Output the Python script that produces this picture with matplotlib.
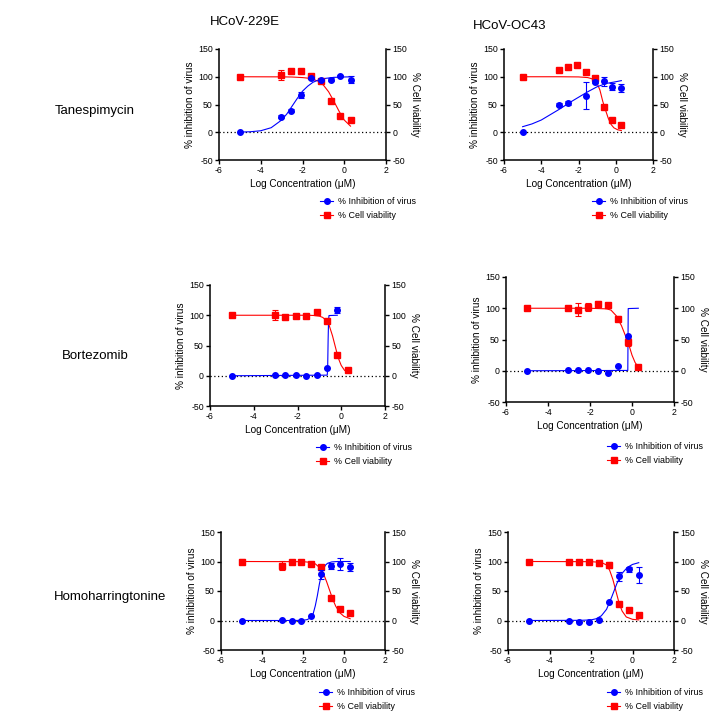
import matplotlib
matplotlib.use("Agg")
import matplotlib.pyplot as plt
from matplotlib.lines import Line2D

plt.rcParams['font.family'] = ['Liberation Sans', 'DejaVu Sans']
plt.rcParams['axes.unicode_minus'] = False

# log10 concentration (uM) of the dilution series
conc = [-5, -3.04, -2.56, -2.08, -1.61, -1.13, -0.65, -0.18, 0.30]

# ---- Tanespimycin / HCoV-229E
tan229_inh_x = conc
tan229_inh = [0, 28, 39, 67, 98, 94, 95, 101, 95]
tan229_inh_err = [0, 3, 2, 6, 2, 2, 2, 2, 7]
tan229_via = [100, 103, 110, 110, 102, 92, 56, 29, 22]
tan229_via_err = [0, 9, 0, 0, 3, 3, 0, 0, 0]
tan229_inh_fit_x = [-5, -4.5, -4, -3.5, -3, -2.75, -2.5, -2.25, -2, -1.75, -1.5, -1.25, -1, -0.5, 0, 0.3]
tan229_inh_fit_y = [0.3, 0.9, 2.7, 8.2, 22, 33, 47, 61, 74, 83, 90, 94, 96.6, 98.9, 99.6, 99.8]
tan229_via_fit_x = [-5, -3, -2.5, -2, -1.75, -1.5, -1.25, -1, -0.75, -0.5, -0.25, 0, 0.3]
tan229_via_fit_y = [100, 99.8, 99.5, 98.5, 97.5, 95.5, 92, 85, 73, 56, 38, 22, 11]

# ---- Tanespimycin / HCoV-OC43
tanoc_inh_x = [-5, -3.04, -2.56, -1.61, -1.13, -0.65, -0.18, 0.30]
tanoc_inh = [0, 50, 53, 66, 91, 92, 82, 80]
tanoc_inh_err = [0, 2, 4, 25, 3, 8, 6, 7]
tanoc_via = [100, 112, 118, 122, 108, 98, 46, 22, 13]
tanoc_via_err = [0, 3, 0, 0, 0, 3, 0, 0, 0]
tanoc_inh_fit_x = [-5, -4.5, -4, -3.5, -3, -2.5, -2, -1.5, -1, -0.5, 0, 0.3]
tanoc_inh_fit_y = [10, 15, 22, 32, 42, 53, 63, 73, 82, 88, 91, 93]
tanoc_via_fit_x = [-5, -3, -2, -1.5, -1.25, -1, -0.85, -0.7, -0.55, -0.4, -0.25, -0.1, 0.1, 0.3]
tanoc_via_fit_y = [100, 100, 99.7, 98.5, 96, 88, 76, 56, 40, 25, 14, 8, 4.5, 3]

# ---- Bortezomib / HCoV-229E
bor229_inh_x = conc[:8]
bor229_inh = [0, 0.5, 1, 1, 0, 0.5, 12, 108]
bor229_inh_err = [0, 0, 0, 0, 0, 0, 0, 5]
bor229_via = [100, 100, 97, 99, 99, 105, 90, 35, 9]
bor229_via_err = [0, 8, 2, 0, 0, 3, 3, 0, 0]
bor229_inh_fit_x = [-5, -0.64, -0.62, -0.6, -0.58, -0.56, -0.18]
bor229_inh_fit_y = [0, 1, 15, 60, 92, 99.5, 100]
bor229_via_fit_x = [-5, -1.5, -1.2, -1.0, -0.85, -0.7, -0.55, -0.4, -0.3, -0.2, -0.1, 0, 0.15, 0.3]
bor229_via_fit_y = [100, 100, 99.5, 98.5, 96.5, 92, 83, 66, 52, 38, 26, 17, 9, 5.5]

# ---- Bortezomib / HCoV-OC43
boroc_inh_x = conc[:8]
boroc_inh = [0, 0.5, 2, 1.5, -0.5, -3, 8, 55]
boroc_inh_err = [0, 0, 0, 0, 0, 0, 0, 0]
boroc_via = [100, 100.5, 98, 102, 107, 105, 83, 46, 6]
boroc_via_err = [0, 2, 10, 6, 5, 4, 4, 6, 0]
boroc_inh_fit_x = [-5, -0.2, -0.18, 0.3]
boroc_inh_fit_y = [0, 0.5, 99.5, 100]
boroc_via_fit_x = [-5, -2, -1.2, -1, -0.75, -0.5, -0.3, -0.2, -0.1, 0, 0.15, 0.3]
boroc_via_fit_y = [100, 100, 99, 97, 88, 72, 55, 47, 36, 25, 13, 6]

# ---- Homoharringtonine / HCoV-229E
hom229_inh_x = conc
hom229_inh = [0, 1, 0, -0.5, 7.5, 78, 93, 96, 91]
hom229_inh_err = [0, 0, 0, 0, 0, 8, 5, 10, 7]
hom229_via = [100, 93, 100, 100, 96, 90, 38.5, 20, 12]
hom229_via_err = [5, 8, 0, 0, 3, 3, 0, 0, 0]
hom229_inh_fit_x = [-5, -2.5, -2, -1.8, -1.6, -1.5, -1.4, -1.3, -1.2, -1.1, -1, -0.9, -0.8, -0.6, -0.3, 0, 0.3]
hom229_inh_fit_y = [0, 0, 0.3, 1.5, 5, 12, 25, 42, 62, 78, 88, 94, 97, 99.3, 100, 100, 100]
hom229_via_fit_x = [-5, -2, -1.6, -1.4, -1.2, -1.0, -0.85, -0.7, -0.55, -0.4, -0.2, 0, 0.3]
hom229_via_fit_y = [100, 99.7, 98.5, 96, 90, 79, 66, 51, 36, 24, 13, 7, 3]

# ---- Homoharringtonine / HCoV-OC43
homoc_inh_x = conc
homoc_inh = [0, -1, -2, -3, 1, 32, 75, 87, 77]
homoc_inh_err = [0, 0, 0, 2, 0, 0, 8, 4, 13]
homoc_via = [100, 100, 98.5, 98.5, 97.5, 94.6, 28, 17, 9]
homoc_via_err = [0, 0, 0, 2, 5, 5, 0, 0, 0]
homoc_inh_fit_x = [-5, -2.5, -2, -1.75, -1.5, -1.25, -1, -0.75, -0.5, -0.25, 0, 0.3]
homoc_inh_fit_y = [0, 0.3, 1, 3, 8, 19, 40, 63, 80, 90, 95, 98]
homoc_via_fit_x = [-5, -2, -1.5, -1.25, -1.1, -0.95, -0.8, -0.65, -0.5, -0.3, 0, 0.3]
homoc_via_fit_y = [100, 99.7, 98.5, 94, 85, 70, 50, 30, 16, 6, 2, 1]

col_titles = ["HCoV-229E", "HCoV-OC43"]
row_titles = ["Tanespimycin", "Bortezomib", "Homoharringtonine"]
x_ticks = [-6, -4, -2, 0, 2]
y_ticks = [-50, 0, 50, 100, 150]

W, H = 709, 716
BLUE = "#0000ff"
RED = "#ff0000"

panels = [
    # axes box in pixels (left, top, right, bottom), legend anchor (x, y)
    dict(box=(219, 49, 386, 160), leg=(320, 197),
         inh=(tan229_inh_x, tan229_inh, tan229_inh_err, tan229_inh_fit_x, tan229_inh_fit_y),
         via=(conc, tan229_via, tan229_via_err, tan229_via_fit_x, tan229_via_fit_y)),
    dict(box=(504, 49, 653, 160), leg=(592, 197),
         inh=(tanoc_inh_x, tanoc_inh, tanoc_inh_err, tanoc_inh_fit_x, tanoc_inh_fit_y),
         via=(conc, tanoc_via, tanoc_via_err, tanoc_via_fit_x, tanoc_via_fit_y)),
    dict(box=(210, 285, 385, 406), leg=(316, 443),
         inh=(bor229_inh_x, bor229_inh, bor229_inh_err, bor229_inh_fit_x, bor229_inh_fit_y),
         via=(conc, bor229_via, bor229_via_err, bor229_via_fit_x, bor229_via_fit_y)),
    dict(box=(506, 277, 674, 402), leg=(607, 442),
         inh=(boroc_inh_x, boroc_inh, boroc_inh_err, boroc_inh_fit_x, boroc_inh_fit_y),
         via=(conc, boroc_via, boroc_via_err, boroc_via_fit_x, boroc_via_fit_y)),
    dict(box=(221, 532, 385, 650), leg=(319, 688),
         inh=(hom229_inh_x, hom229_inh, hom229_inh_err, hom229_inh_fit_x, hom229_inh_fit_y),
         via=(conc, hom229_via, hom229_via_err, hom229_via_fit_x, hom229_via_fit_y)),
    dict(box=(508, 532, 674, 650), leg=(607, 688),
         inh=(homoc_inh_x, homoc_inh, homoc_inh_err, homoc_inh_fit_x, homoc_inh_fit_y),
         via=(conc, homoc_via, homoc_via_err, homoc_via_fit_x, homoc_via_fit_y)),
]

fig = plt.figure(figsize=(W / 100, H / 100), dpi=100)

for p in panels:
    l, t, r, b = p["box"]
    ax = fig.add_axes([l / W, 1 - b / H, (r - l) / W, (b - t) / H])
    ax2 = ax.twinx()
    for a in (ax, ax2):
        a.set_xlim(-6, 2)
        a.set_ylim(-50, 150)
        a.set_yticks(y_ticks)
        a.spines['top'].set_visible(False)
        for s in a.spines.values():
            s.set_linewidth(1.1)
        a.tick_params(direction='out', length=3, width=1, labelsize=6.3, pad=1.5)
    ax.spines['right'].set_visible(False)
    ax2.spines['left'].set_visible(False)
    ax2.spines['bottom'].set_visible(False)
    ax.set_xticks(x_ticks)
    ax.axhline(0, color='black', ls=(0, (1, 2)), lw=0.9, zorder=1)

    x, y, e, fx, fy = p["via"]
    ax.plot(fx, fy, color=RED, lw=0.8, zorder=2)
    ax.errorbar(x, y, yerr=e, fmt='s', color=RED, ms=4, capsize=2,
                elinewidth=0.8, capthick=0.8, zorder=3)
    x, y, e, fx, fy = p["inh"]
    ax.plot(fx, fy, color=BLUE, lw=0.8, zorder=2)
    ax.errorbar(x, y, yerr=e, fmt='o', color=BLUE, ms=4, capsize=2,
                elinewidth=0.8, capthick=0.8, zorder=4)

    ax.set_xlabel("Log Concentration (\u03bcM)", fontsize=7.2, labelpad=3)
    ax.set_ylabel("% inhibition of virus", fontsize=7.2, labelpad=2)
    ax2.set_ylabel("% Cell viability", fontsize=7.2, rotation=270, va='bottom', labelpad=2)

    handles = [Line2D([], [], color=BLUE, marker='o', ms=4, lw=0.8),
               Line2D([], [], color=RED, marker='s', ms=4, lw=0.8)]
    lx, ly = p["leg"]
    fig.legend(handles, ["% Inhibition of virus", "% Cell viability"],
               loc='upper left', bbox_to_anchor=(lx / W, 1 - ly / H),
               frameon=False, fontsize=6.4, handlelength=1.5, handletextpad=0.5,
               borderpad=0, borderaxespad=0, labelspacing=0.6)

fig.text(245 / W, 1 - 22 / H, col_titles[0], fontsize=9.5, ha='center', va='center')
fig.text(510 / W, 1 - 26 / H, col_titles[1], fontsize=9.5, ha='center', va='center')
fig.text(95 / W, 1 - 111 / H, row_titles[0], fontsize=9.5, ha='center', va='center')
fig.text(95 / W, 1 - 356 / H, row_titles[1], fontsize=9.5, ha='center', va='center')
fig.text(110 / W, 1 - 597 / H, row_titles[2], fontsize=9.5, ha='center', va='center')

fig.savefig("out.png", dpi=100)
